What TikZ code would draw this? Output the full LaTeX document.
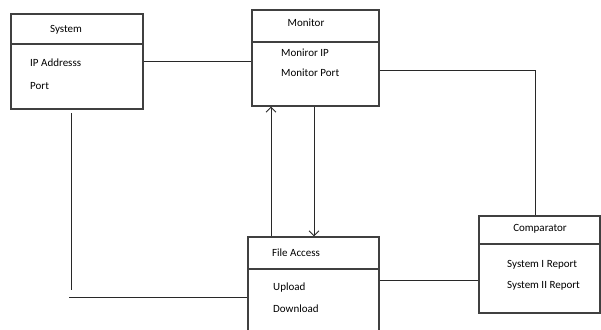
\documentclass[tikz,border=0pt]{standalone}
\usepackage{fontspec}
\setmainfont{Carlito}
\usetikzlibrary{arrows.meta}
\definecolor{boxline}{RGB}{64, 64, 64}
\definecolor{wire}{RGB}{40, 40, 40}

\tikzset{
  classbox/.style={draw=boxline, line width=1.2pt, rectangle, inner sep=0pt},
  divider/.style={draw=boxline, line width=1.2pt},
  title/.style={font=\fontsize{11}{13}\selectfont, inner sep=0pt},
  field/.style={font=\fontsize{11}{13}\selectfont, inner sep=0pt, anchor=west},
  wire/.style={draw=wire, line width=0.9pt},
  flow/.style={wire, -{Straight Barb[length=5pt, width=10pt]}}
}

\begin{document}
\begin{tikzpicture}[x=1pt, y=-1pt]
  \useasboundingbox (0,0) rectangle (601,329);
  \clip (0,0) rectangle (601,329);
  % class boxes
  \node[classbox, minimum width=132pt, minimum height=95pt] (system)  at ( 77.0,  61.5) {};
  \node[classbox, minimum width=127pt, minimum height=96pt] (monitor) at (315.5,  58.0) {};
  \node[classbox, minimum width=131pt, minimum height=96pt] (access)  at (313.5, 285.0) {};
  \node[classbox, minimum width=121pt, minimum height=97pt] (compare) at (539.5, 264.5) {};
  \draw[divider] (system.west  |- 0, 44) -- (system.east  |- 0, 44);
  \draw[divider] (monitor.west |- 0, 42) -- (monitor.east |- 0, 42);
  \draw[divider] (access.west  |- 0,269) -- (access.east  |- 0,269);
  \draw[divider] (compare.west |- 0,244) -- (compare.east |- 0,244);
  % texts
  \node[title] (systitle) at ( 66, 30) {System};
  \node[field] (sysip)    at ( 30, 63) {IP Addresss};
  \node[field] (sysport)  at ( 30, 86) {Port};
  \node[title] (montitle) at (306, 23) {Monitor};
  \node[field] (monip)    at (281, 53) {Moniror IP};
  \node[field] (monport)  at (281, 73) {Monitor Port};
  \node[title] (acctitle) at (296,253) {File Access};
  \node[field] (accup)    at (273,288) {Upload};
  \node[field] (accdown)  at (273,309) {Download};
  \node[title] (cmptitle) at (540,229) {Comparator};
  \node[field] (cmpone)   at (507,265) {System I Report};
  \node[field] (cmptwo)   at (507,286) {System II Report};
  % connectors
  \coordinate (sysdrop) at (71,113);
  \coordinate (sysend)  at (71,290);
  \coordinate (accfeed) at (69,297);
  \draw[wire] (system.east |- 0,61) -- (monitor.west |- 0,61);
  \draw[wire] (monitor.east |- 0,70) -| (compare.north -| 535,0);
  \draw[wire] (access.east |- 0,280) -- (compare.west |- 0,280);
  \draw[wire] (sysdrop) -- (sysend);
  \draw[wire] (accfeed) -- (access.west |- accfeed);
  \draw[flow] (access.north -| 271,0) -- (monitor.south -| 271,0);
  \draw[flow] (monitor.south -| 314,0) -- (access.north -| 314,0);
\end{tikzpicture}
\end{document}
